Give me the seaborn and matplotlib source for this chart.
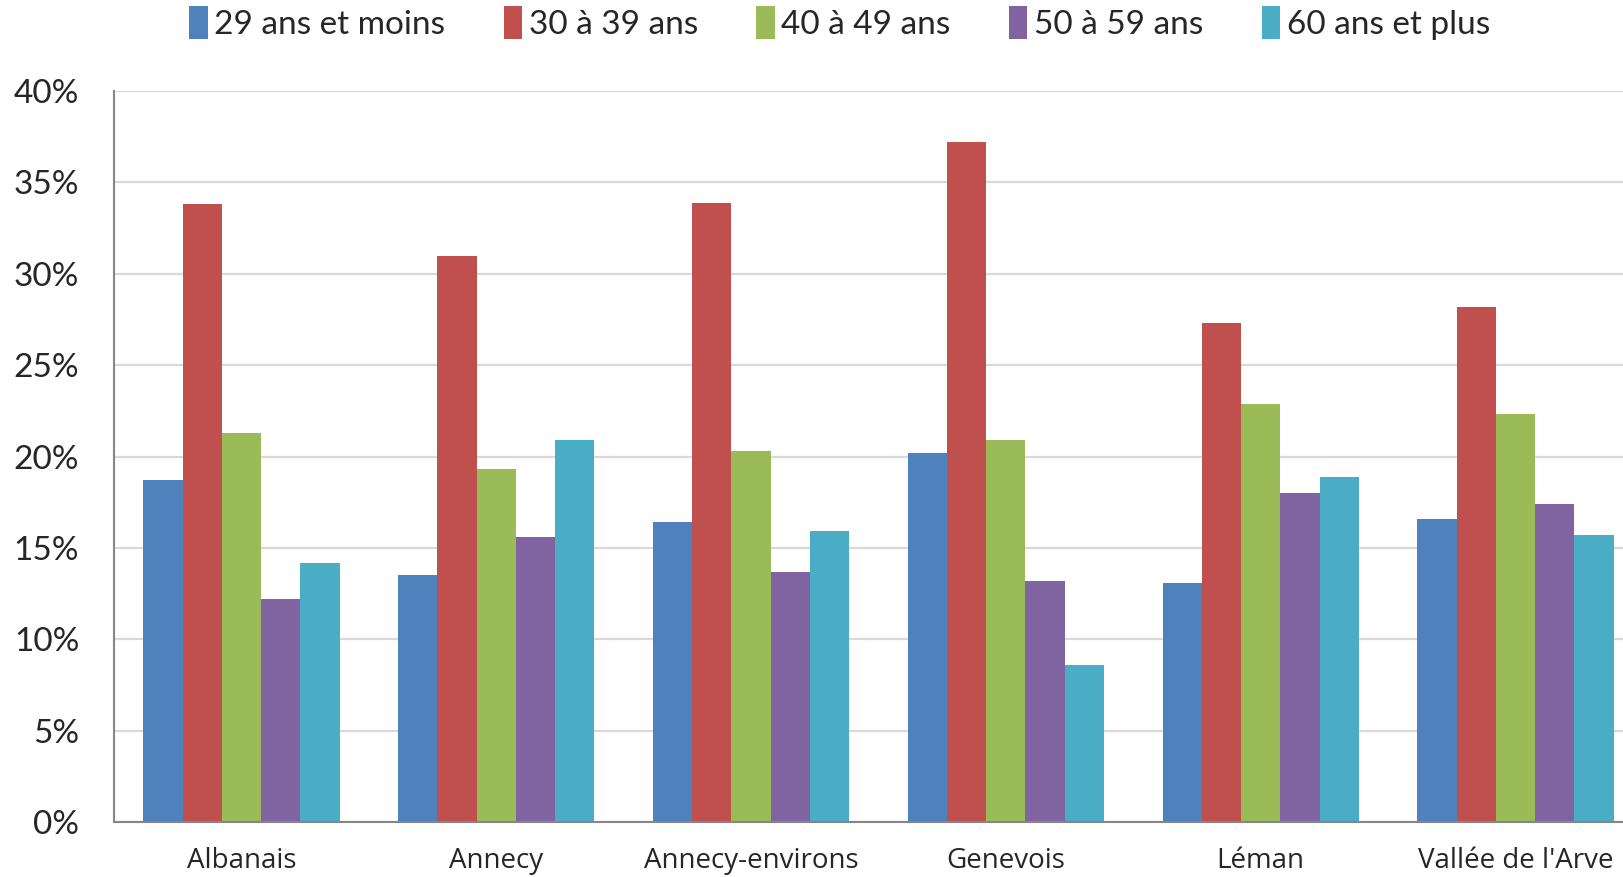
import seaborn as sns
import matplotlib.pyplot as plt
import pandas as pd

# data
zones = ["Albanais", "Annecy", "Annecy-environs", "Genevois", "Léman", "Vallée de l'Arve"]
ages = ["29 ans et moins", "30 à 39 ans", "40 à 49 ans", "50 à 59 ans", "60 ans et plus"]
age_29 = [18.7, 13.5, 16.4, 20.2, 13.1, 16.6]
age_30 = [33.8, 31.0, 33.9, 37.2, 27.3, 28.2]
age_40 = [21.3, 19.3, 20.3, 20.9, 22.9, 22.3]
age_50 = [12.2, 15.6, 13.7, 13.2, 18.0, 17.4]
age_60 = [14.2, 20.9, 15.9, 8.6, 18.9, 15.7]
colors = ["#4F81BD", "#C0504D", "#9BBB59", "#8064A2", "#4BACC6"]

rows = []
for age, vals in zip(ages, [age_29, age_30, age_40, age_50, age_60]):
    for z, v in zip(zones, vals):
        rows.append({"zone": z, "age": age, "pct": v})
df = pd.DataFrame(rows)

sns.set_style("white")
plt.rcParams["font.family"] = ["Lato", "DejaVu Sans"]

fig = plt.figure(figsize=(16.24, 8.77), dpi=100)
ax = fig.add_axes([0.0702, 0.0627, 0.9298, 0.8335])

sns.barplot(data=df, x="zone", y="pct", hue="age", palette=colors,
            width=0.77, saturation=1, linewidth=0, ax=ax, legend=True)

ax.set_ylim(0, 40)
ax.set_yticks(range(0, 41, 5))
ax.set_yticklabels([f"{t}%" for t in range(0, 41, 5)], fontsize=24)
ax.yaxis.grid(True, color="#d9d9d9", linewidth=1.6)
ax.set_axisbelow(True)

# ticks between groups on x axis, labels centred on the groups
ax.set_xticks([i + 0.5 for i in range(-1, 6)], minor=False)
ax.set_xticklabels([])
ax.set_xticks(range(6), minor=True)
ax.set_xticklabels(zones, minor=True, fontsize=20, family=["Open Sans", "DejaVu Sans"])
ax.set_xlim(-0.5, 5.426)
ax.tick_params(axis="x", which="minor", length=0, pad=18)
ax.tick_params(axis="x", which="major", length=8, width=1.5, color="#868686", direction="out")
ax.tick_params(axis="y", length=10, width=1.5, color="#868686", direction="out", pad=15)
ax.set_xlabel("")
ax.set_ylabel("")

for s in ["top", "right"]:
    ax.spines[s].set_visible(False)
for s in ["left", "bottom"]:
    ax.spines[s].set_color("#868686")
    ax.spines[s].set_linewidth(1.5)

ax.legend(loc="center", bbox_to_anchor=(0.517, 0.974), bbox_transform=fig.transFigure,
          ncol=5, frameon=False, fontsize=24, handlelength=0.55, handleheight=1.15,
          handletextpad=0.2, columnspacing=1.75, borderaxespad=0)

fig.savefig("out.png", dpi=100)
